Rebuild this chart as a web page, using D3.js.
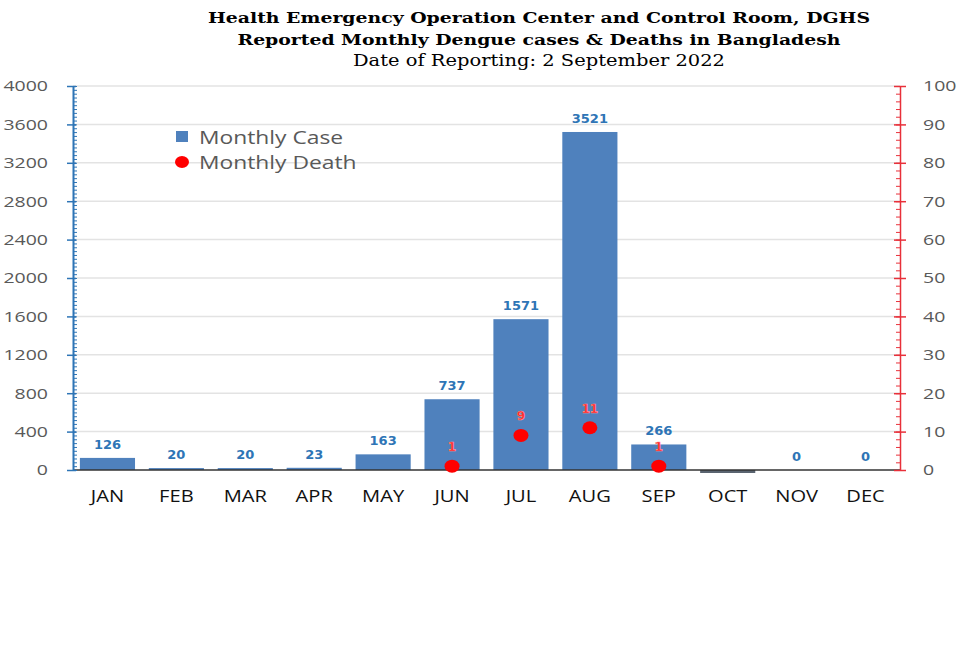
<!DOCTYPE html>
<html><head><meta charset="utf-8">
<script src="https://cdn.jsdelivr.net/npm/d3@7"></script>
<style>body{margin:0;background:#fff}</style>
</head><body>
<svg id="c" width="966" height="648"></svg>
<script>
const months = ["JAN","FEB","MAR","APR","MAY","JUN","JUL","AUG","SEP","OCT","NOV","DEC"];
const cases = [126,20,20,23,163,737,1571,3521,266,null,0,0];
const deaths = [null,null,null,null,null,1,9,11,1,null,null,null];
const caseTicks = [0,400,800,1200,1600,2000,2400,2800,3200,3600,4000];
const deathTicks = [0,10,20,30,40,50,60,70,80,90,100];
const titleLines = ["Health Emergency Operation Center and Control Room, DGHS","Reported Monthly Dengue cases & Deaths in Bangladesh","Date of Reporting: 2 September 2022"];

const svg = d3.select("#c");
const L = 73, R = 900, T = 86, B = 470;
const x = d3.scaleBand().domain(months).range([L, R]).paddingInner(0.2).paddingOuter(0.1);
const yL = d3.scaleLinear().domain([0,4000]).range([B, T]);
const yR = d3.scaleLinear().domain([0,100]).range([B, T]);

// horizontally stretch text (reference is wider than tall)
function stretch(sel, k){
  sel.each(function(){
    const w = this.getComputedTextLength();
    if (w > 0) d3.select(this).attr("textLength", w*k).attr("lengthAdjust","spacingAndGlyphs");
  });
}

// title
const titleSpec = [
  {y:23, w:662, bold:true, size:15.5},
  {y:45, w:603, bold:true, size:15.5},
  {y:66, w:372, bold:false, size:17}
];
svg.selectAll("text.title").data(titleLines).join("text").attr("class","title")
  .attr("x", 539).attr("y", (d,i)=>titleSpec[i].y)
  .attr("text-anchor","middle")
  .attr("font-family","'DejaVu Serif', serif")
  .attr("font-weight",(d,i)=>titleSpec[i].bold?"bold":"normal")
  .attr("font-size",(d,i)=>titleSpec[i].size)
  .attr("fill","#000")
  .attr("textLength",(d,i)=>titleSpec[i].w).attr("lengthAdjust","spacingAndGlyphs")
  .text(d=>d);

// gridlines
svg.append("g").selectAll("line").data(caseTicks.slice(1)).join("line")
  .attr("x1",L).attr("x2",R).attr("y1",d=>yL(d)).attr("y2",d=>yL(d))
  .attr("stroke","#e3e3e3").attr("stroke-width",1.5);

// bars
svg.append("g").selectAll("rect").data(months.map((m,i)=>({m,v:cases[i]})).filter(d=>d.v!==null))
  .join("rect")
  .attr("x",d=>x(d.m)).attr("width",x.bandwidth())
  .attr("y",d=>yL(d.v)).attr("height",d=>B-yL(d.v))
  .attr("fill","#4f81bd");
// OCT sliver below baseline (as in the reference)
svg.append("rect").attr("x",x("OCT")).attr("width",x.bandwidth()).attr("y",B).attr("height",3).attr("fill","#5a6470");

// baseline
svg.append("line").attr("x1",L).attr("x2",R).attr("y1",B).attr("y2",B).attr("stroke","#333").attr("stroke-width",1.5);

// left axis: minor ticks inside
const gL = svg.append("g").attr("transform",`translate(${L},0)`);
gL.call(d3.axisRight(yL).tickValues(d3.range(0,4001,40)).tickSize(4).tickFormat(""));
gL.selectAll(".tick line").attr("stroke","#2e75b6");
gL.select(".domain").remove();
const gL2 = svg.append("g").attr("transform",`translate(${L},0)`);
gL2.call(d3.axisLeft(yL).tickValues(caseTicks).tickFormat(d3.format("d")).tickSize(6).tickPadding(19).tickSizeOuter(0));
gL2.select(".domain").attr("stroke","#2e75b6").attr("stroke-width",2);
gL2.selectAll(".tick line").attr("stroke","#2e75b6").attr("stroke-width",1.5).attr("x2",-6).attr("x1",3);
gL2.selectAll(".tick text").attr("font-family","'Open Sans', sans-serif").attr("font-size",15).attr("fill","#595959").call(stretch,1.3);

// right axis: minor ticks inside
const gR = svg.append("g").attr("transform",`translate(${R},0)`);
gR.call(d3.axisLeft(yR).tickValues(d3.range(0,101,2)).tickSize(4).tickFormat(""));
gR.selectAll(".tick line").attr("stroke","#e8303a");
gR.select(".domain").remove();
const gR2 = svg.append("g").attr("transform",`translate(${R},0)`);
gR2.call(d3.axisRight(yR).tickValues(deathTicks).tickFormat(d3.format("d")).tickSize(6).tickPadding(17).tickSizeOuter(0));
gR2.select(".domain").attr("stroke","#e8303a").attr("stroke-width",1.5);
gR2.selectAll(".tick line").attr("stroke","#e8303a").attr("stroke-width",1.5).attr("x1",-6);
gR2.selectAll(".tick text").attr("font-family","'Open Sans', sans-serif").attr("font-size",15).attr("fill","#595959").call(stretch,1.3);

// x axis labels
const gX = svg.append("g").attr("transform",`translate(0,${B})`);
gX.call(d3.axisBottom(x).tickSize(0).tickPadding(20));
gX.select(".domain").remove();
gX.selectAll(".tick text").attr("font-family","'Open Sans', sans-serif").attr("font-size",16.5).attr("fill","#111").call(stretch,1.22);

// case labels
svg.append("g").selectAll("text").data(months.map((m,i)=>({m,v:cases[i]})).filter(d=>d.v!==null))
  .join("text")
  .attr("x",d=>x(d.m)+x.bandwidth()/2).attr("y",d=>yL(d.v)-9)
  .attr("text-anchor","middle")
  .attr("font-family","'DejaVu Sans', sans-serif").attr("font-weight","bold").attr("font-size",13)
  .attr("fill","#2e75b6").text(d=>d.v);

// deaths
const dd = months.map((m,i)=>({m,v:deaths[i]})).filter(d=>d.v!==null);
svg.append("g").selectAll("ellipse").data(dd).join("ellipse")
  .attr("cx",d=>x(d.m)+x.bandwidth()/2).attr("cy",d=>yR(d.v)).attr("rx",7.5).attr("ry",6.5)
  .attr("fill","#ff0000");
svg.append("g").selectAll("text").data(dd).join("text")
  .attr("x",d=>x(d.m)+x.bandwidth()/2).attr("y",d=>yR(d.v)-15)
  .attr("text-anchor","middle")
  .attr("font-family","'DejaVu Sans', sans-serif").attr("font-weight","bold").attr("font-size",12)
  .attr("fill","#ff2020").attr("stroke","#ff9090").attr("stroke-width",0.6).text(d=>d.v);

// legend
const lg = svg.append("g");
lg.append("rect").attr("x",176).attr("y",131).attr("width",12).attr("height",11).attr("fill","#4f81bd");
lg.append("text").attr("x",199).attr("y",144).attr("font-family","'Open Sans', sans-serif").attr("font-size",19).attr("fill","#595959").text("Monthly Case").call(stretch,1.2);
lg.append("ellipse").attr("cx",182).attr("cy",162).attr("rx",7).attr("ry",6).attr("fill","#ff0000");
lg.append("text").attr("x",199).attr("y",169).attr("font-family","'Open Sans', sans-serif").attr("font-size",19).attr("fill","#595959").text("Monthly Death").call(stretch,1.2);
</script>
</body></html>
